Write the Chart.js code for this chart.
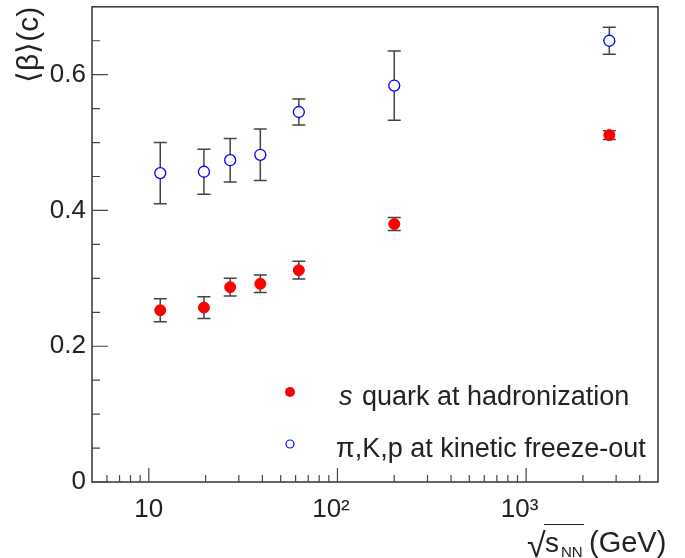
<!DOCTYPE html>
<html>
<head>
<meta charset="utf-8">
<script src="https://cdn.jsdelivr.net/npm/chart.js@4.4.1/dist/chart.umd.min.js"></script>
<style>
  html, body { margin: 0; padding: 0; background: #fff; }
</style>
</head>
<body>
<canvas id="chart" width="685" height="558"></canvas>
<script>
// collision energies (GeV) and mean flow velocities
const energies = [11.5, 19.6, 27, 39, 62.4, 200, 2760];
const sQuark = [0.253, 0.257, 0.287, 0.292, 0.312, 0.380, 0.511];
const sQuarkErr = [0.017, 0.016, 0.013, 0.013, 0.013, 0.0095, 0.0065];
const kinetic = [0.455, 0.457, 0.474, 0.482, 0.545, 0.584, 0.650];
const kineticErr = [0.045, 0.033, 0.032, 0.038, 0.019, 0.051, 0.020];

const xMajorTicks = [10, 100, 1000];
const xTickLabels = ['10', '10²\u2002', '10³\u2002'];
const xMinorTicks = [6, 7, 8, 9, 20, 30, 40, 50, 60, 70, 80, 90,
    200, 300, 400, 500, 600, 700, 800, 900, 2000, 3000, 4000];
const yMajorTicks = [0, 0.2, 0.4, 0.6];
const yTickLabels = ['0', '0.2', '0.4', '0.6'];
const yMinorTicks = [0.05, 0.1, 0.15, 0.25, 0.3, 0.35, 0.45, 0.5, 0.55, 0.65];

const FONT = "'Liberation Sans', Arial, Helvetica, sans-serif";
const TEXT_COLOR = '#222';
const AXIS_COLOR = '#333';

/** error bars, frame, inward ticks, legend and x title */
const rootStyle = {
    id: 'rootStyle',
    beforeDatasetsDraw(chart) {
        const { ctx, scales: { x, y } } = chart;
        ctx.save();
        ctx.strokeStyle = '#444';
        ctx.lineWidth = 1.5;
        chart.data.datasets.forEach((ds) => {
            const r = ds.pointRadius;
            ds.data.forEach((p, i) => {
                const px = x.getPixelForValue(p.x);
                const py = y.getPixelForValue(p.y);
                const hi = y.getPixelForValue(p.y + ds.err[i]);
                const lo = y.getPixelForValue(p.y - ds.err[i]);
                ctx.beginPath();
                if (hi < py - r) { ctx.moveTo(px, hi); ctx.lineTo(px, py - r); }
                if (lo > py + r) { ctx.moveTo(px, py + r); ctx.lineTo(px, lo); }
                ctx.moveTo(px - 6.5, hi); ctx.lineTo(px + 6.5, hi);
                ctx.moveTo(px - 6.5, lo); ctx.lineTo(px + 6.5, lo);
                ctx.stroke();
            });
        });
        ctx.restore();
    },
    afterDraw(chart) {
        const { ctx, chartArea: a, scales: { x, y } } = chart;
        ctx.save();

        // frame
        ctx.strokeStyle = AXIS_COLOR;
        ctx.lineWidth = 1.5;
        ctx.strokeRect(a.left, a.top, a.right - a.left, a.bottom - a.top);

        // inward tick marks
        ctx.strokeStyle = '#444';
        ctx.lineWidth = 1.2;
        ctx.beginPath();
        const xTick = (v, len) => {
            const px = x.getPixelForValue(v);
            ctx.moveTo(px, a.bottom); ctx.lineTo(px, a.bottom - len);
        };
        const yTick = (v, len) => {
            const py = y.getPixelForValue(v);
            ctx.moveTo(a.left, py); ctx.lineTo(a.left + len, py);
        };
        xMajorTicks.forEach((v) => xTick(v, 14));
        xMinorTicks.forEach((v) => xTick(v, 7));
        yMajorTicks.forEach((v) => yTick(v, 16));
        yMinorTicks.forEach((v) => yTick(v, 8));
        ctx.stroke();

        // legend
        const ds = chart.data.datasets;
        ctx.fillStyle = ds[0].backgroundColor;
        ctx.beginPath(); ctx.arc(290, 392, 5, 0, Math.PI * 2); ctx.fill();
        ctx.strokeStyle = ds[1].borderColor;
        ctx.lineWidth = 1.2;
        ctx.beginPath(); ctx.arc(290, 444, 4, 0, Math.PI * 2); ctx.stroke();

        ctx.fillStyle = TEXT_COLOR;
        ctx.textBaseline = 'alphabetic';
        ctx.textAlign = 'left';
        ctx.font = `italic 27px ${FONT}`;
        ctx.fillText('s', 339, 405);
        const sw = ctx.measureText('s ').width;
        ctx.font = `27px ${FONT}`;
        ctx.fillText('quark at hadronization', 341 + sw, 405);
        ctx.fillText('π,K,p at kinetic freeze-out', 336, 457);

        // x title: sqrt(s_NN) (GeV)
        ctx.font = `34px ${FONT}`;
        ctx.fillText('√', 527, 557);
        ctx.font = `28px ${FONT}`;
        ctx.fillText('s', 545, 552);
        ctx.font = `15px ${FONT}`;
        ctx.fillText('NN', 561, 557);
        ctx.font = `29px ${FONT}`;
        ctx.fillText('(GeV)', 589, 552);
        ctx.strokeStyle = TEXT_COLOR;
        ctx.lineWidth = 1.2;
        ctx.beginPath(); ctx.moveTo(544, 524.5); ctx.lineTo(584, 524.5); ctx.stroke();

        ctx.restore();
    },
};

const toPoints = (vals) => energies.map((e, i) => ({ x: e, y: vals[i] }));

new Chart(document.getElementById('chart'), {
    type: 'scatter',
    data: {
        datasets: [
            {
                label: 's quark at hadronization',
                data: toPoints(sQuark),
                err: sQuarkErr,
                pointRadius: 5.5,
                backgroundColor: '#ff0000',
                borderColor: '#ff0000',
                borderWidth: 1,
            },
            {
                label: 'π,K,p at kinetic freeze-out',
                data: toPoints(kinetic),
                err: kineticErr,
                pointRadius: 5.5,
                backgroundColor: '#ffffff',
                borderColor: '#0000ff',
                borderWidth: 1.3,
            },
        ],
    },
    options: {
        responsive: false,
        animation: false,
        layout: { padding: { top: 3, right: 27, left: 0, bottom: 0 } },
        plugins: { legend: { display: false }, tooltip: { enabled: false } },
        scales: {
            x: {
                type: 'logarithmic',
                min: 5, max: 5000,
                afterBuildTicks: (s) => { s.ticks = xMajorTicks.map((v) => ({ value: v })); },
                afterFit: (s) => { s.height = 76; s.paddingLeft = 0; s.paddingRight = 0; },
                grid: { display: false, drawTicks: false },
                border: { display: false },
                ticks: {
                    padding: 12, color: TEXT_COLOR, maxRotation: 0, autoSkip: false,
                    font: { family: FONT, size: 26 },
                    callback: (v, i) => xTickLabels[i],
                },
            },
            y: {
                min: 0, max: 0.7,
                afterBuildTicks: (s) => { s.ticks = yMajorTicks.map((v) => ({ value: v })); },
                afterFit: (s) => { s.width = 92; s.paddingTop = 0; s.paddingBottom = 0; },
                grid: { display: false, drawTicks: false },
                border: { display: false },
                ticks: {
                    padding: 6, color: TEXT_COLOR,
                    font: { family: FONT, size: 26 },
                    callback: (v, i) => yTickLabels[i],
                },
                title: {
                    display: true, text: '⟨β⟩(c)', align: 'end', color: TEXT_COLOR,
                    font: { family: FONT, size: 30 },
                    padding: { top: 12, bottom: 0 },
                },
            },
        },
    },
    plugins: [rootStyle],
});
</script>
</body>
</html>
